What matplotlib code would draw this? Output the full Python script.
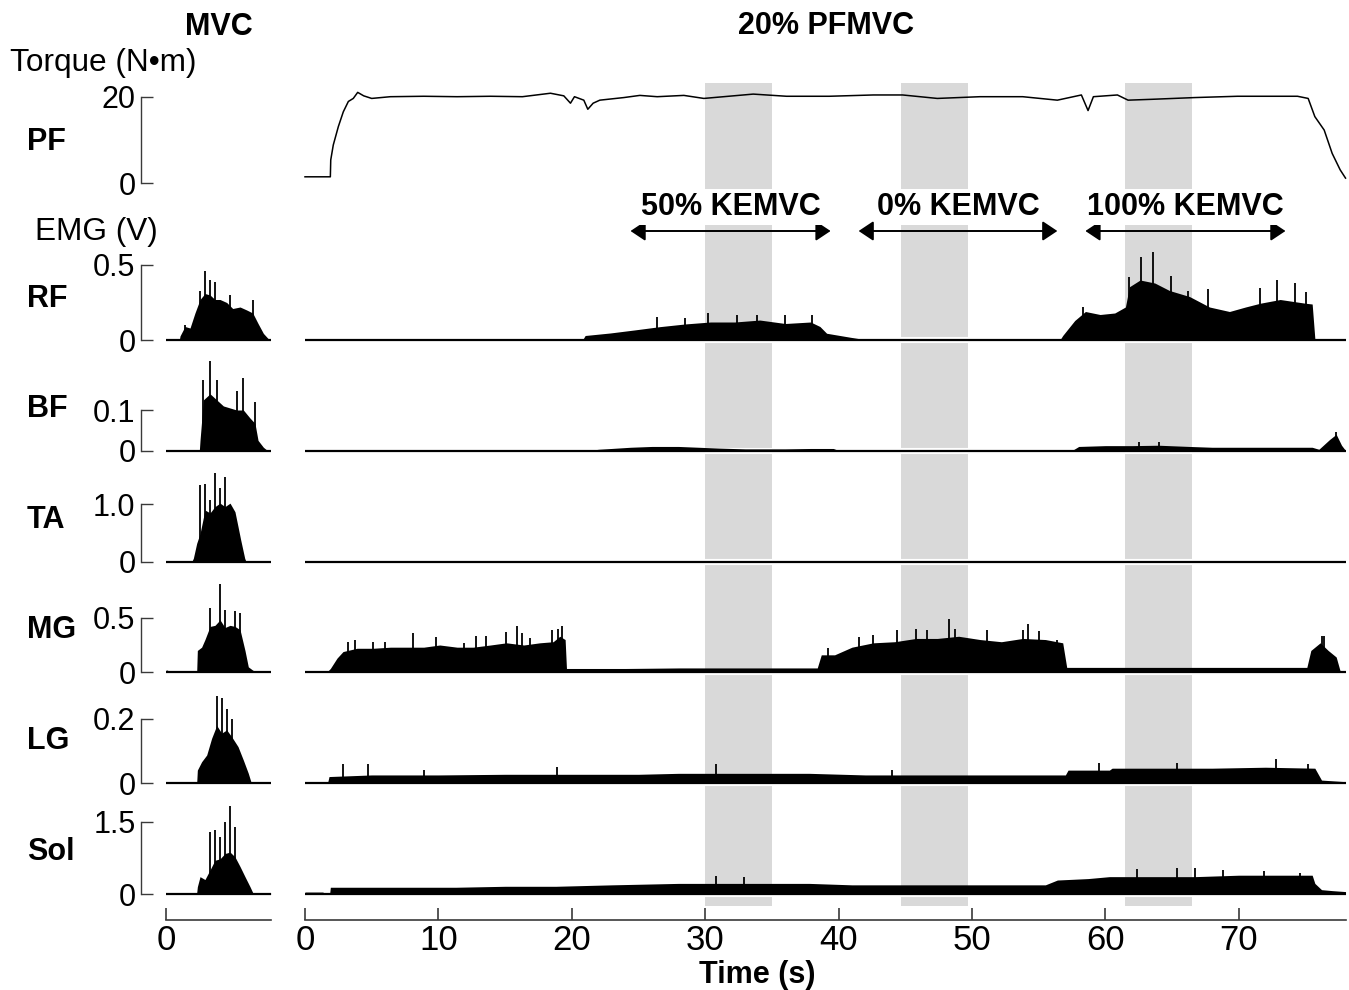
import matplotlib
matplotlib.use("Agg")
import matplotlib.pyplot as plt

# ---------------- data ----------------
# plantar-flexion torque during the 20% PFMVC hold (N·m)
torque_t = [0, 1.9, 1.93, 2.12, 2.5, 2.87, 3.25, 3.62, 3.95, 4.4, 5.0, 6.4, 8.9, 11.4, 13.9,
            16.3, 18.4, 19.4, 19.9, 20.2, 20.9, 21.2, 21.6, 22.1, 23.9, 25.1, 26.4, 28.4, 29.9,
            33.6, 36.1, 39.3, 42.6, 44.8, 47.4, 50.6, 53.8, 56.4, 58.2, 58.7, 59.1, 60.9, 61.7,
            63.5, 66.7, 69.9, 74.4, 75.2, 75.7, 76.4, 77.0, 77.6, 78.0]
torque_v = [1.5, 1.5, 5.4, 8.85, 13.1, 16.5, 18.9, 19.6, 21.0, 20.2, 19.6, 20.0, 20.1, 20.0, 20.1,
            20.0, 20.8, 20.2, 18.5, 20.0, 19.2, 17.1, 18.5, 19.2, 19.8, 20.3, 20.0, 20.3, 19.6,
            20.6, 20.1, 20.1, 20.4, 20.4, 19.6, 20.0, 20.0, 19.2, 20.4, 16.8, 20.0, 20.4, 19.2,
            19.4, 19.8, 20.1, 20.1, 19.6, 15.4, 12.3, 6.9, 3.1, 1.2]

# rectified EMG envelopes during MVC trials (V)
rf_mvc_t = [0, 1.0, 1.05, 1.42, 1.8, 2.17, 2.55, 2.92, 3.3, 3.67, 4.05, 4.55, 5.0, 5.55, 6.05, 6.5, 6.9, 7.3, 7.65, 7.85]
rf_mvc_v = [0, 0, 0.027, 0.09, 0.08, 0.18, 0.27, 0.31, 0.30, 0.27, 0.27, 0.25, 0.21, 0.22, 0.20, 0.18, 0.11, 0.044, 0.01, 0]
rf_mvc_spk_t = [1.42, 2.55, 2.92, 3.3, 3.67, 4.8, 6.5]
rf_mvc_spk_v = [0.10, 0.33, 0.46, 0.40, 0.39, 0.30, 0.27]

bf_mvc_t = [0, 2.5, 2.55, 2.8, 3.3, 3.8, 4.3, 4.8, 5.3, 5.8, 6.3, 6.67, 6.9, 7.3, 7.6]
bf_mvc_v = [0, 0, 0.025, 0.125, 0.14, 0.125, 0.11, 0.105, 0.10, 0.10, 0.08, 0.067, 0.025, 0.008, 0]
bf_mvc_spk_t = [2.8, 3.3, 3.8, 5.3, 5.8, 6.67]
bf_mvc_spk_v = [0.175, 0.22, 0.175, 0.146, 0.18, 0.12]

ta_mvc_t = [0, 1.93, 2.05, 2.3, 2.55, 2.92, 3.3, 3.67, 4.05, 4.42, 4.8, 5.17, 5.4, 5.6, 5.9, 6.0]
ta_mvc_v = [0, 0, 0.06, 0.32, 0.49, 0.90, 0.85, 0.96, 1.02, 0.96, 1.02, 0.87, 0.61, 0.38, 0.06, 0]
ta_mvc_spk_t = [2.55, 2.92, 3.3, 3.67, 4.05, 4.42]
ta_mvc_spk_v = [1.33, 1.36, 1.07, 1.55, 1.28, 1.48]

mg_mvc_t = [0, 0.12, 0.15, 2.3, 2.35, 2.67, 2.92, 3.3, 3.67, 4.05, 4.42, 4.8, 5.17, 5.55, 5.92, 6.17, 6.5, 6.8]
mg_mvc_v = [0.02, 0.02, 0, 0, 0.20, 0.23, 0.30, 0.42, 0.43, 0.48, 0.41, 0.43, 0.42, 0.39, 0.20, 0.05, 0.02, 0]
mg_mvc_spk_t = [3.3, 4.05, 4.42, 5.17, 5.55]
mg_mvc_spk_v = [0.59, 0.81, 0.57, 0.56, 0.54]

lg_mvc_t = [0, 2.3, 2.35, 2.67, 3.05, 3.42, 3.8, 4.17, 4.55, 4.92, 5.4, 5.8, 6.17, 6.4]
lg_mvc_v = [0, 0, 0.041, 0.067, 0.088, 0.14, 0.18, 0.156, 0.166, 0.145, 0.114, 0.072, 0.031, 0]
lg_mvc_spk_t = [3.8, 4.17, 4.55, 4.92]
lg_mvc_spk_v = [0.27, 0.264, 0.23, 0.20]

sol_mvc_t = [0, 2.3, 2.35, 2.55, 2.92, 3.3, 3.67, 4.05, 4.42, 4.8, 5.17, 5.55, 5.92, 6.3, 6.5, 7.85]
sol_mvc_v = [0.02, 0.02, 0.15, 0.36, 0.30, 0.50, 0.70, 0.73, 0.84, 0.87, 0.77, 0.57, 0.36, 0.15, 0.03, 0.02]
sol_mvc_spk_t = [3.3, 3.67, 4.05, 4.42, 4.8, 5.17]
sol_mvc_spk_v = [1.29, 1.33, 1.19, 1.50, 1.83, 1.40]

# rectified EMG envelopes during the 20% PFMVC hold (V)
rf_t = [0, 20.8, 21, 22.9, 24.7, 26.6, 28.5, 30.4, 32.2, 34.1, 36, 37.9, 38.6, 39.1, 40.1, 40.9,
        41.6, 44, 45, 56.6, 56.8, 57.7, 58.5, 59.6, 60.7, 61.5, 61.8, 62.6, 63.7, 64.8, 66.3,
        67.8, 69.3, 70.5, 71.6, 73.1, 75.0, 75.5, 75.7, 78]
rf_v = [0, 0, 0.03, 0.047, 0.067, 0.089, 0.107, 0.12, 0.12, 0.133, 0.11, 0.12, 0.09, 0.045, 0.03, 0.018,
        0.008, 0.008, 0.002, 0.002, 0.03, 0.13, 0.19, 0.17, 0.18, 0.22, 0.355, 0.40, 0.38, 0.33, 0.29,
        0.22, 0.19, 0.22, 0.245, 0.27, 0.245, 0.24, 0.01, 0.01]
rf_spk_t = [26.4, 28.5, 30.2, 32.4, 33.9, 36.0, 38.0, 58.3, 61.8, 62.7, 63.6, 64.9, 66.2, 67.7, 71.6, 72.9, 74.2, 75.0]
rf_spk_v = [0.155, 0.15, 0.18, 0.17, 0.17, 0.17, 0.17, 0.22, 0.42, 0.555, 0.59, 0.43, 0.33, 0.34, 0.35, 0.40, 0.38, 0.32]

bf_t = [0, 21.3, 22, 24.4, 26, 28, 31, 33, 36, 37.9, 39.6, 40, 57.5, 58, 60, 62, 64, 66.3, 68, 72,
        75.5, 76.0, 76.8, 77.3, 77.7, 78]
bf_v = [0, 0, 0.003, 0.008, 0.01, 0.01, 0.006, 0.004, 0.004, 0.005, 0.005, 0, 0, 0.01, 0.012, 0.012,
        0.013, 0.01, 0.008, 0.008, 0.008, 0.003, 0.027, 0.04, 0.013, 0]
bf_spk_t = [62.5, 64.0, 77.3]
bf_spk_v = [0.02, 0.02, 0.045]

ta_t = [0, 78]
ta_v = [0.003, 0.003]
ta_spk_t = []
ta_spk_v = []

mg_t = [0, 1.7, 1.9, 2.4, 2.85, 3.9, 5.1, 6.4, 7.6, 8.9, 10.1, 11.4, 12.6, 13.9, 15.1, 16.4, 17.6,
        18.6, 19.1, 19.5, 19.6, 24, 28.1, 33, 38.4, 38.7, 39.7, 41, 42.6, 44.2, 45.8, 47.4, 49,
        50.6, 52.2, 53.8, 55.5, 56.8, 57.1, 62, 68, 75.1, 75.4, 76.1, 76.7, 77.3, 77.6, 78]
mg_v = [0.01, 0.01, 0.035, 0.13, 0.19, 0.22, 0.22, 0.23, 0.23, 0.23, 0.25, 0.23, 0.23, 0.25, 0.27,
        0.25, 0.27, 0.28, 0.33, 0.30, 0.035, 0.035, 0.04, 0.04, 0.04, 0.16, 0.16, 0.23, 0.27, 0.28,
        0.31, 0.31, 0.33, 0.30, 0.28, 0.31, 0.30, 0.27, 0.045, 0.045, 0.045, 0.045, 0.20, 0.27,
        0.20, 0.14, 0.01, 0.01]
mg_spk_t = [3.25, 3.75, 5.1, 6.0, 8.1, 9.8, 11.9, 12.8, 13.6, 15.1, 15.9, 16.3, 16.9, 18.5, 19.0, 19.3,
            39.2, 41.5, 42.6, 44.4, 45.8, 46.6, 48.3, 48.7, 51.1, 53.8, 54.2, 55.0, 56.4, 76.2, 76.4]
mg_spk_v = [0.28, 0.30, 0.28, 0.28, 0.36, 0.32, 0.27, 0.33, 0.33, 0.37, 0.42, 0.36, 0.31, 0.39, 0.40, 0.42,
            0.22, 0.32, 0.34, 0.39, 0.40, 0.39, 0.49, 0.40, 0.39, 0.39, 0.44, 0.38, 0.30, 0.33, 0.33]

lg_t = [0, 1.7, 1.8, 5, 10, 15, 20, 25, 28, 33, 37.8, 42, 46, 50.6, 54, 57, 57.2, 60.3, 60.5, 64,
        68, 72, 75.7, 76.2, 78]
lg_v = [0.003, 0.003, 0.021, 0.026, 0.026, 0.028, 0.028, 0.028, 0.031, 0.031, 0.031, 0.026, 0.026,
        0.026, 0.026, 0.026, 0.041, 0.041, 0.047, 0.047, 0.047, 0.05, 0.047, 0.01, 0.005]
lg_spk_t = [2.87, 4.75, 8.9, 18.9, 30.8, 44.0, 59.5, 65.4, 72.8, 75.2]
lg_spk_v = [0.059, 0.059, 0.041, 0.052, 0.06, 0.041, 0.062, 0.064, 0.075, 0.059]

sol_t = [0, 1.35, 1.4, 1.85, 1.9, 6, 11.3, 15, 18.8, 23, 28, 33, 37.8, 41, 44.2, 50, 55.5, 56.4,
         58.7, 60.3, 63.5, 66.7, 70, 73, 75.5, 75.7, 76.2, 77, 78]
sol_v = [0.04, 0.04, 0.01, 0.01, 0.14, 0.14, 0.14, 0.16, 0.16, 0.19, 0.22, 0.22, 0.22, 0.19, 0.19,
         0.19, 0.19, 0.29, 0.32, 0.36, 0.36, 0.36, 0.39, 0.39, 0.39, 0.22, 0.09, 0.07, 0.05]
sol_spk_t = [30.8, 32.9, 62.4, 65.4, 66.7, 68.8, 71.9, 74.6]
sol_spk_v = [0.38, 0.35, 0.52, 0.54, 0.54, 0.50, 0.47, 0.43]

# row labels and y-axis ticks
row_names = ['PF', 'RF', 'BF', 'TA', 'MG', 'LG', 'Sol']
row_tick_vals = [20, 0.5, 0.1, 1.0, 0.5, 0.2, 1.5]
row_tick_labels = ['20', '0.5', '0.1', '1.0', '0.5', '0.2', '1.5']

# analysis windows and knee-extension conditions
band_start = [30.0, 44.7, 61.5]
band_end = [35.0, 49.7, 66.5]
phase_labels = ['50% KEMVC', '0% KEMVC', '100% KEMVC']
phase_start = [24.4, 41.5, 58.5]
phase_end = [39.4, 56.4, 73.5]

main_xticks = [0, 10, 20, 30, 40, 50, 60, 70]
mvc_xticks = [0]

# ---------------- layout ----------------
plt.rcParams['font.family'] = ['Liberation Sans', 'DejaVu Sans']

W, H = 1349, 990
fig = plt.figure(figsize=(W / 100, H / 100), dpi=100)


def rect(x0, x1, ytop, ybot):
    return [x0 / W, 1 - ybot / H, (x1 - x0) / W, (ybot - ytop) / H]


PPS = 13.34            # pixels per second
MAIN_X0 = 305
MVC_X0 = 166
SPINE_X = 141
T_END = 78.0
MVC_END = 7.85
main_x1 = MAIN_X0 + T_END * PPS
mvc_x1 = MVC_X0 + MVC_END * PPS
mvc_xlim = ((SPINE_X - MVC_X0) / PPS, MVC_END)
SPINE_C = '#3a3a3a'

# grey analysis windows, condition labels and arrows
axb = fig.add_axes(rect(MAIN_X0, main_x1, 83, 906))
axb.set_xlim(0, T_END)
axb.set_ylim(906, 83)
axb.axis('off')
axb.set_zorder(0)
for s, e in zip(band_start, band_end):
    axb.axvspan(s, e, color='#d9d9d9', lw=0, zorder=1)
for lbl, a, b in zip(phase_labels, phase_start, phase_end):
    axb.annotate('', xy=(a, 231), xytext=(b, 231),
                 arrowprops=dict(arrowstyle='<|-|>,head_length=0.45,head_width=0.3',
                                 color='black', lw=1.4, shrinkA=0, shrinkB=0,
                                 mutation_scale=20))
    axb.text((a + b) / 2, 215, lbl, ha='center', va='baseline', fontsize=22,
             fontweight='bold', zorder=3,
             bbox=dict(fc='white', ec='none', pad=2))

mvc_traces = [None,
              (rf_mvc_t, rf_mvc_v, rf_mvc_spk_t, rf_mvc_spk_v),
              (bf_mvc_t, bf_mvc_v, bf_mvc_spk_t, bf_mvc_spk_v),
              (ta_mvc_t, ta_mvc_v, ta_mvc_spk_t, ta_mvc_spk_v),
              (mg_mvc_t, mg_mvc_v, mg_mvc_spk_t, mg_mvc_spk_v),
              (lg_mvc_t, lg_mvc_v, lg_mvc_spk_t, lg_mvc_spk_v),
              (sol_mvc_t, sol_mvc_v, sol_mvc_spk_t, sol_mvc_spk_v)]
main_traces = [None,
               (rf_t, rf_v, rf_spk_t, rf_spk_v),
               (bf_t, bf_v, bf_spk_t, bf_spk_v),
               (ta_t, ta_v, ta_spk_t, ta_spk_v),
               (mg_t, mg_v, mg_spk_t, mg_spk_v),
               (lg_t, lg_v, lg_spk_t, lg_spk_v),
               (sol_t, sol_v, sol_spk_t, sol_spk_v)]

zero_px = [183.3, 340.0, 450.5, 561.7, 672.3, 783.3, 894.0]
tick_px = [96.7, 265.0, 410.0, 504.3, 617.7, 719.0, 821.7]
label_base_px = [150, 307, 417, 528, 638, 749, 860]
HEAD = 95


def draw_emg(ax, t, v, spk_t, spk_v, t_end):
    ax.fill_between(t, 0, v, color='black', lw=0, zorder=2)
    if spk_t:
        ax.vlines(spk_t, 0, spk_v, color='black', lw=1.3, zorder=2)
    ax.plot([0, t_end], [0, 0], color='black', lw=1.6, zorder=3,
            solid_capstyle='butt', clip_on=False)


for i, name in enumerate(row_names):
    z, tp = zero_px[i], tick_px[i]
    tick = row_tick_vals[i]
    ymax = tick * HEAD / (z - tp)

    axm = fig.add_axes(rect(SPINE_X, mvc_x1, z - HEAD, z))
    axm.set_xlim(*mvc_xlim)
    axm.set_ylim(0, ymax)
    axm.patch.set_alpha(0)
    for s in ['top', 'right', 'bottom']:
        axm.spines[s].set_visible(False)
    axm.spines['left'].set_bounds(0, tick)
    axm.spines['left'].set_color(SPINE_C)
    axm.spines['left'].set_linewidth(1.0)
    axm.set_xticks([])
    axm.set_yticks([0, tick])
    axm.set_yticklabels(['0', row_tick_labels[i]])
    axm.tick_params(axis='y', direction='in', length=8.4, width=1.0, color=SPINE_C,
                    labelsize=22, pad=4)

    axr = fig.add_axes(rect(MAIN_X0, main_x1, z - HEAD, z))
    axr.set_xlim(0, T_END)
    axr.set_ylim(0, ymax)
    axr.axis('off')
    axr.set_zorder(2)

    if i == 0:
        axr.plot(torque_t, torque_v, color='black', lw=1.1, clip_on=False)
    else:
        axr.plot([0, T_END], [0, 0], color='white', lw=4.4, zorder=1,
                 solid_capstyle='butt', clip_on=False)
        t, v, st, sv = main_traces[i]
        draw_emg(axr, t, v, st, sv, T_END)
        t, v, st, sv = mvc_traces[i]
        draw_emg(axm, t, v, st, sv, MVC_END)

    fig.text(27 / W, 1 - label_base_px[i] / H, name, ha='left', va='baseline',
             fontsize=22, fontweight='bold')

# time axes
for x0, x1, xlim, ticks in [(MAIN_X0, main_x1, (0, T_END), main_xticks),
                            (SPINE_X, mvc_x1, mvc_xlim, mvc_xticks)]:
    axx = fig.add_axes(rect(x0, x1, 880, 920))
    axx.set_xlim(*xlim)
    axx.set_ylim(0, 1)
    axx.patch.set_alpha(0)
    for s in ['top', 'left', 'right']:
        axx.spines[s].set_visible(False)
    axx.spines['bottom'].set_bounds(0, xlim[1])
    axx.spines['bottom'].set_color(SPINE_C)
    axx.spines['bottom'].set_linewidth(1.2)
    axx.set_yticks([])
    axx.set_xticks(ticks)
    axx.tick_params(axis='x', direction='in', length=9, width=1.2, color=SPINE_C,
                    labelsize=25, pad=3)

# titles and axis labels
fig.text(219 / W, 1 - 35 / H, 'MVC', ha='center', va='baseline', fontsize=22, fontweight='bold')
fig.text(826 / W, 1 - 34 / H, '20% PFMVC', ha='center', va='baseline', fontsize=22, fontweight='bold')
fig.text(10 / W, 1 - 71 / H, 'Torque (N•m)', ha='left', va='baseline', fontsize=22.7)
fig.text(35 / W, 1 - 240 / H, 'EMG (V)', ha='left', va='baseline', fontsize=22.7)
fig.text(757 / W, 1 - 983 / H, 'Time (s)', ha='center', va='baseline', fontsize=22, fontweight='bold')

fig.savefig('out.png', dpi=100, facecolor='white')
